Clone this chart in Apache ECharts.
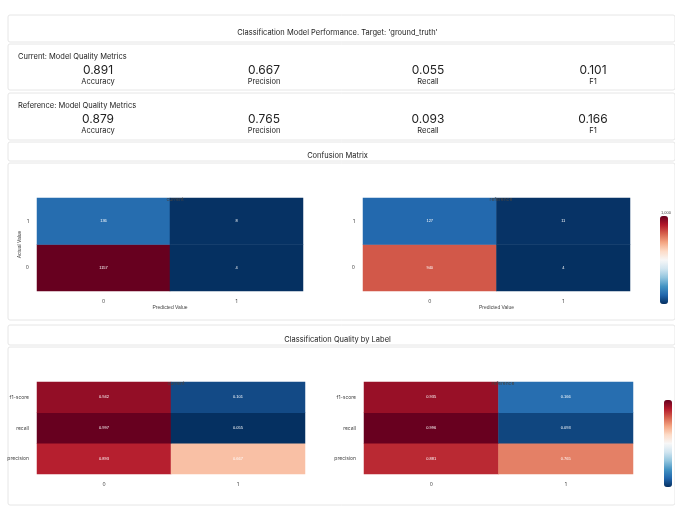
<!DOCTYPE html><html><head><meta charset="utf-8">
<script src="https://cdn.jsdelivr.net/npm/echarts@6/dist/echarts.min.js"></script>
<style>html,body{margin:0;background:#fff}#c{width:675px;height:512px}</style></head><body><div id="c"></div>
<script>
const predCats=['0','1'];
const actualCats=['0','1'];
const cmCurrent=[[1157,4],[136,8]]; // rows actual 0,1; cols predicted 0,1
const cmReference=[[940,4],[127,11]];
const labelCats=['0','1'];
const metricCats=['precision','recall','f1-score'];
const lqCurrent=[[0.893,0.667],[0.997,0.055],[0.942,0.101]];
const lqReference=[[0.881,0.765],[0.996,0.093],[0.935,0.166]];
const metricNames=['Accuracy','Precision','Recall','F1'];
const currentMetrics=['0.891','0.667','0.055','0.101'];
const referenceMetrics=['0.879','0.765','0.093','0.166'];
const cmTicks=[200,400,600,800,1000];
const lqTicks=[0.2,0.4,0.6,0.8];

const RdBu=['#053061','#2166ac','#4393c3','#92c5de','#d1e5f0','#f7f7f7','#fddbc7','#f4a582','#d6604d','#b2182b','#67001f'];
function toData(m){const d=[];m.forEach((r,i)=>r.forEach((v,j)=>d.push([j,i,v])));return d;}
const F='Inter, Noto Sans, sans-serif';
const grids=[
 {left:37,top:198,width:266,height:93},
 {left:363,top:198,width:267,height:93},
 {left:37,top:382,width:268,height:92},
 {left:364,top:382,width:269,height:92},
 {left:645,top:201,width:8,height:88},
 {left:649,top:385,width:8,height:87}
];
const ax={axisLine:{show:false},axisTick:{show:false},splitLine:{show:false},axisLabel:{fontSize:5,color:'#444',fontFamily:F}};
const xAxis=[0,1,2,3].map(i=>Object.assign({type:'category',gridIndex:i,data:i<2?predCats:labelCats,
  name:i<2?'Predicted Value':'',nameLocation:'middle',nameGap:14,nameTextStyle:{fontSize:5,color:'#444'}},ax));
const yAxis=[0,1,2,3].map(i=>Object.assign({type:'category',gridIndex:i,data:i<2?actualCats:metricCats,
  name:i==0?'Actual Value':'',nameLocation:'middle',nameGap:12,nameTextStyle:{fontSize:5,color:'#444'}},ax));
xAxis.push({type:'value',gridIndex:4,show:false},{type:'value',gridIndex:5,show:false});
yAxis.push(Object.assign({},ax,{type:'value',gridIndex:4,min:4,max:1157,position:'right',interval:200,axisLabel:{fontSize:4,color:'#444',customValues:cmTicks}}),
 Object.assign({},ax,{type:'value',gridIndex:5,min:0.055,max:0.997,position:'right',axisLabel:{fontSize:4,color:'#444',customValues:lqTicks}}));
function hm(i,data){return {type:'heatmap',xAxisIndex:i,yAxisIndex:i,data:toData(data),
  label:{show:true,fontSize:4,color:'#fff',formatter:p=>String(p.value[2])},itemStyle:{borderWidth:0}};}
const series=[hm(0,cmCurrent),hm(1,cmReference),hm(2,lqCurrent),hm(3,lqReference)];
const title=[
 {text:"Classification Model Performance. Target: 'ground_truth'",left:'center',top:24},
 {text:'Confusion Matrix',left:'center',top:147},
 {text:'Classification Quality by Label',left:'center',top:331},
 {text:'current',left:170,top:192,textAlign:'center',textStyle:{fontSize:5,fontWeight:'normal',color:'#444'}},
 {text:'reference',left:496,top:192,textAlign:'center',textStyle:{fontSize:5,fontWeight:'normal',color:'#444'}},
 {text:'current',left:171,top:376,textAlign:'center',textStyle:{fontSize:5,fontWeight:'normal',color:'#444'}},
 {text:'reference',left:498,top:376,textAlign:'center',textStyle:{fontSize:5,fontWeight:'normal',color:'#444'}},
 {text:'Current: Model Quality Metrics',left:13,top:48,textStyle:{fontSize:7.5,fontWeight:'normal'}},
 {text:'Reference: Model Quality Metrics',left:13,top:97,textStyle:{fontSize:7.5,fontWeight:'normal'}}
].map(t=>{t.textStyle=Object.assign({fontSize:7.5,fontWeight:'normal',color:'#222',fontFamily:F},t.textStyle||{});return t;});
const cx=[93,259,423,588];
[[currentMetrics,59],[referenceMetrics,108]].forEach(([vals,y])=>{
 vals.forEach((v,k)=>{
  title.push({text:v,left:cx[k],top:y,textAlign:'center',textStyle:{fontSize:12,color:'#222',fontWeight:'normal',fontFamily:F}});
  title.push({text:metricNames[k],left:cx[k],top:y+14,textAlign:'center',textStyle:{fontSize:7.5,color:'#222',fontWeight:'normal',fontFamily:F}});
 });
});
const rects=[[8,15,667,27],[8,44,667,46],[8,93,667,47],[8,142,667,19],[8,163,667,157],[8,325,667,20],[8,347,667,158]];
const graphic=rects.map(r=>({type:'rect',shape:{x:r[0],y:r[1],width:r[2],height:r[3],r:2},style:{fill:'#fff',stroke:'#e6e6e6',lineWidth:1},z:-10}));
const chart=echarts.init(document.getElementById('c'));
chart.setOption({backgroundColor:'#fff',animation:false,title,graphic,grid:grids,xAxis,yAxis,series,
 visualMap:[
  {type:'continuous',min:4,max:1157,seriesIndex:[0,1],inRange:{color:RdBu},show:true,calculable:false,left:645,top:201,itemWidth:8,itemHeight:88,text:['',''],showLabel:false},
  {type:'continuous',min:0.055,max:0.997,seriesIndex:[2,3],inRange:{color:RdBu},show:true,left:649,top:385,itemWidth:8,itemHeight:87,text:['',''],showLabel:false}
 ]});
</script></body></html>
